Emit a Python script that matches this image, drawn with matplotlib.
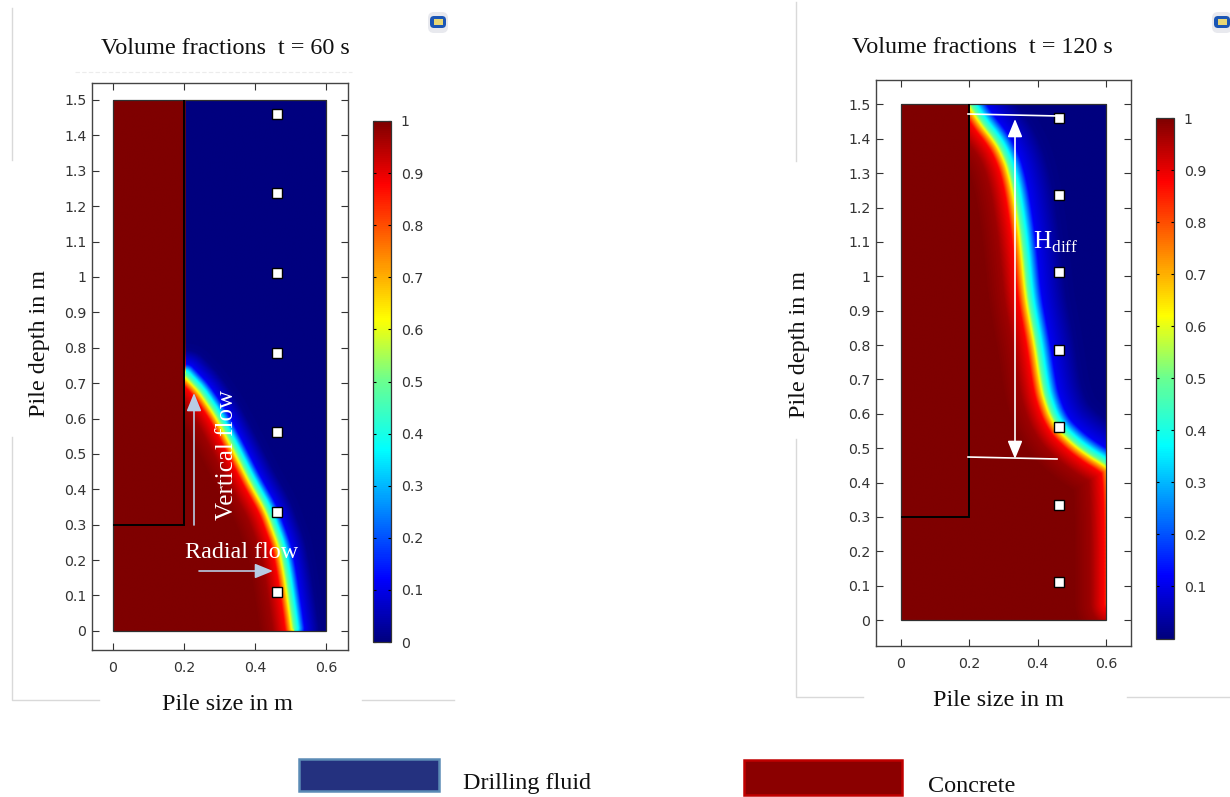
import numpy as np
import matplotlib
matplotlib.use("Agg")
import matplotlib.pyplot as plt
from matplotlib.colors import LinearSegmentedColormap
from matplotlib.patches import Rectangle, FancyBboxPatch

W, H = 1230, 797
SERIF = "Liberation Serif"

# ---------- values ----------
x_ticks = [0, 0.2, 0.4, 0.6]
x_labels = ["0", "0.2", "0.4", "0.6"]
y_ticks = [0, 0.1, 0.2, 0.3, 0.4, 0.5, 0.6, 0.7, 0.8, 0.9, 1.0, 1.1, 1.2, 1.3, 1.4, 1.5]
y_labels = ["0", "0.1", "0.2", "0.3", "0.4", "0.5", "0.6", "0.7", "0.8", "0.9", "1", "1.1", "1.2", "1.3", "1.4", "1.5"]
cb_ticks_60 = [0, 0.1, 0.2, 0.3, 0.4, 0.5, 0.6, 0.7, 0.8, 0.9, 1.0]
cb_labels_60 = ["0", "0.1", "0.2", "0.3", "0.4", "0.5", "0.6", "0.7", "0.8", "0.9", "1"]
cb_ticks_120 = [0.1, 0.2, 0.3, 0.4, 0.5, 0.6, 0.7, 0.8, 0.9, 1.0]
cb_labels_120 = ["0.1", "0.2", "0.3", "0.4", "0.5", "0.6", "0.7", "0.8", "0.9", "1"]

probe_x = [0.462, 0.462, 0.462, 0.462, 0.462, 0.462, 0.462]
probe_y = [1.46, 1.237, 1.011, 0.785, 0.562, 0.336, 0.11]

# concrete / fluid interface (volume fraction 0.5)
front_60_x = [0.508, 0.499, 0.485, 0.471, 0.433, 0.386, 0.339, 0.292, 0.245, 0.200]
front_60_y = [0.003, 0.069, 0.163, 0.238, 0.342, 0.426, 0.520, 0.610, 0.680, 0.728]
front_120_x = [0.622, 0.622, 0.600, 0.543, 0.485, 0.451, 0.426, 0.412, 0.397, 0.382,
               0.368, 0.358, 0.343, 0.324, 0.300, 0.270, 0.241, 0.202, 0.190]
front_120_y = [-0.02, 0.430, 0.454, 0.486, 0.533, 0.572, 0.631, 0.689, 0.795, 0.873,
               0.951, 1.067, 1.184, 1.290, 1.358, 1.406, 1.440, 1.500, 1.520]

# transition across the interface: distance from it (m) against volume fraction
profile_60_d = [-0.10, -0.06, -0.025, -0.012, 0.0, 0.012, 0.03, 0.07, 0.10]
profile_60_v = [1.0, 0.97, 0.88, 0.70, 0.50, 0.37, 0.11, 0.01, 0.0]
profile_120_d = [-0.12, -0.07, -0.03, -0.012, 0.0, 0.015, 0.04, 0.11, 0.15]
profile_120_v = [1.0, 0.97, 0.88, 0.68, 0.50, 0.37, 0.11, 0.01, 0.0]

# ---------- helpers ----------
cmap = LinearSegmentedColormap.from_list("rainbow_comsol", [
    (0.00, "#00007f"), (0.12, "#0000ff"), (0.37, "#00ffff"), (0.50, "#6aff90"),
    (0.62, "#ffff00"), (0.88, "#ff0000"), (1.00, "#7f0000")])


def field(fx, fy, pd, pv, nx=300, ny=750):
    xs = (np.arange(nx) + 0.5) / nx * 0.6
    ys = (np.arange(ny) + 0.5) / ny * 1.5
    fx, fy = np.asarray(fx, float), np.asarray(fy, float)
    t = np.arange(len(fx))
    tt = np.linspace(0, len(fx) - 1, 600)
    px, py = np.interp(tt, t, fx), np.interp(tt, t, fy)
    # round off the corners between the points
    k = 41
    kernel = np.ones(k) / k
    px = np.convolve(np.pad(px, k // 2, mode="edge"), kernel, mode="valid")
    py = np.convolve(np.pad(py, k // 2, mode="edge"), kernel, mode="valid")
    out = np.zeros((ny, nx))
    for j, y in enumerate(ys):
        d = np.sqrt(((xs[:, None] - px) ** 2 + (y - py) ** 2).min(axis=1))
        inside = xs < np.interp(y, py, px)
        sd = np.where(inside, -d, d)
        out[j] = np.interp(sd, pd, pv)
        out[j][(xs < 0.2) & (y > 0.3)] = 1.0
    return out


def rect_ax(fig, l, t, r, b, **kw):
    return fig.add_axes([l / W, 1 - b / H, (r - l) / W, (b - t) / H], **kw)


def panel(fig, box, xlim, ylim, cbox, fx, fy, pd, pv, cticks, clabels):
    ax = rect_ax(fig, *box)
    im = ax.imshow(field(fx, fy, pd, pv), extent=(0, 0.6, 0, 1.5), origin="lower",
                   aspect="auto", cmap=cmap, vmin=0, vmax=1, interpolation="bilinear")
    ax.add_patch(Rectangle((0, 0), 0.6, 1.5, fill=False, ec="#303030", lw=0.9))
    ax.plot([0.2, 0.2, 0], [1.5, 0.3, 0.3], color="black", lw=1.4,
            solid_joinstyle="miter", solid_capstyle="butt")
    ax.plot(probe_x, probe_y, ls="none", marker="s", ms=7, mfc="white", mec="black", mew=1.0)
    ax.set_xlim(*xlim)
    ax.set_ylim(*ylim)
    ax.set_xticks(x_ticks, x_labels)
    ax.set_yticks(y_ticks, y_labels)
    ax.tick_params(axis="both", direction="in", top=True, right=True, length=5, width=0.8,
                   color="#333333", labelcolor="#333333", labelsize=10.2)
    ax.tick_params(axis="x", pad=8)
    ax.tick_params(axis="y", pad=4)
    for s in ax.spines.values():
        s.set_color("#444444")
        s.set_linewidth(1.0)
    cax = rect_ax(fig, *cbox)
    cb = fig.colorbar(im, cax=cax)
    cb.set_ticks(cticks, labels=clabels)
    cax.tick_params(axis="y", direction="in", left=True, right=True, length=2.2, width=0.8,
                    color="black", labelcolor="#333333", labelsize=10.2, pad=7)
    cb.outline.set_edgecolor("#333333")
    cb.outline.set_linewidth(0.9)
    return ax


def icon(ov, cx, cy):
    ov.add_patch(FancyBboxPatch((cx - 10, cy - 10), 20, 21, boxstyle="round,pad=0,rounding_size=6",
                                fc="#e8e9ee", ec="none"))
    ov.add_patch(FancyBboxPatch((cx - 8, cy - 6), 16, 12, boxstyle="round,pad=0,rounding_size=4",
                                fc="#1b56b5", ec="none"))
    ov.add_patch(Rectangle((cx - 4, cy - 3), 9, 6, fc="#e8d774", ec="none"))


# ---------- figure ----------
plt.rcParams["mathtext.fontset"] = "custom"
plt.rcParams["mathtext.rm"] = SERIF
fig = plt.figure(figsize=(W / 100, H / 100), dpi=100, facecolor="white")

# faint frame lines of the screenshots and legend, below the plots
ov = fig.add_axes([0, 0, 1, 1], zorder=0)
ov.set_xlim(0, W)
ov.set_ylim(H, 0)
ov.axis("off")
GREY = "#d9d9d9"
for xs_, ys_ in [([12, 12], [8, 160]), ([12, 12, 99], [437, 700, 700]), ([362, 454], [700, 700]),
                 ([796, 796], [2, 161]), ([796, 796, 863], [439, 697, 697]), ([1127, 1230], [697, 697])]:
    ov.plot(xs_, ys_, color=GREY, lw=1.0)
ov.plot([75, 352], [72, 72], color="#ececec", lw=0.8, ls=(0, (4, 2)))
icon(ov, 438, 22)
icon(ov, 1222, 22)
ov.add_patch(Rectangle((299, 759), 140, 32, fc="#24317f", ec="#5b8bb5", lw=1.8))
ov.add_patch(Rectangle((744, 760), 158, 35, fc="#8b0000", ec="#c00000", lw=1.8))
FS = 17.4
ov.text(463, 784, "Drilling fluid", family=SERIF, fontsize=FS, va="center", ha="left", color="#111111")
ov.text(928, 787, "Concrete", family=SERIF, fontsize=FS, va="center", ha="left", color="#111111")

ov.text(225, 48, "Volume fractions  t = 60 s", family=SERIF, fontsize=FS, ha="center", va="center", color="#111111")
ov.text(982, 47, "Volume fractions  t = 120 s", family=SERIF, fontsize=FS, ha="center", va="center", color="#111111")
ov.text(40, 343, "Pile depth in m", family=SERIF, fontsize=FS, rotation=90, ha="center", va="center", color="#111111")
ov.text(800, 344, "Pile depth in m", family=SERIF, fontsize=FS, rotation=90, ha="center", va="center", color="#111111")
ov.text(227, 704, "Pile size in m", family=SERIF, fontsize=FS, ha="center", va="center", color="#111111")
ov.text(998, 701, "Pile size in m", family=SERIF, fontsize=FS, ha="center", va="center", color="#111111")

panel(fig, (92, 83, 348, 650), (-0.059, 0.662), (-0.054, 1.548), (373, 121, 391, 642),
      front_60_x, front_60_y, profile_60_d, profile_60_v, cb_ticks_60, cb_labels_60)
panel(fig, (876, 80, 1131, 646), (-0.073, 0.673), (-0.0756, 1.571), (1156, 118, 1174, 638.5),
      front_120_x, front_120_y, profile_120_d, profile_120_v, cb_ticks_120, cb_labels_120)

# annotations above the plots
top = fig.add_axes([0, 0, 1, 1], zorder=5)
top.set_xlim(0, W)
top.set_ylim(H, 0)
top.axis("off")
top.patch.set_alpha(0)
ARW = "#b8cce4"
top.annotate("", xy=(194, 393), xytext=(194, 525),
             arrowprops=dict(arrowstyle="-|>,head_width=0.45,head_length=1.1", color=ARW, lw=1.2, shrinkA=0, shrinkB=0))
top.annotate("", xy=(273, 571), xytext=(199, 571),
             arrowprops=dict(arrowstyle="-|>,head_width=0.45,head_length=1.1", color=ARW, lw=1.2, shrinkA=0, shrinkB=0))
top.text(227, 455, "Vertical flow", family=SERIF, fontsize=18, rotation=90, color="white", ha="center", va="center")
top.text(242, 552, "Radial flow", family=SERIF, fontsize=FS, color="white", ha="center", va="center")
top.plot([968, 1058], [114, 116], color="white", lw=1.2)
top.plot([968, 1057], [457, 459], color="white", lw=1.2)
top.annotate("", xy=(1015, 119), xytext=(1015, 459),
             arrowprops=dict(arrowstyle="<|-|>,head_width=0.45,head_length=1.1", color="white", lw=1.2, shrinkA=0, shrinkB=0))
top.text(1033, 242, r"H$_{\mathrm{diff}}$", family=SERIF, fontsize=18, color="white", ha="left", va="center")

fig.savefig("out.png", dpi=100, facecolor="white")
